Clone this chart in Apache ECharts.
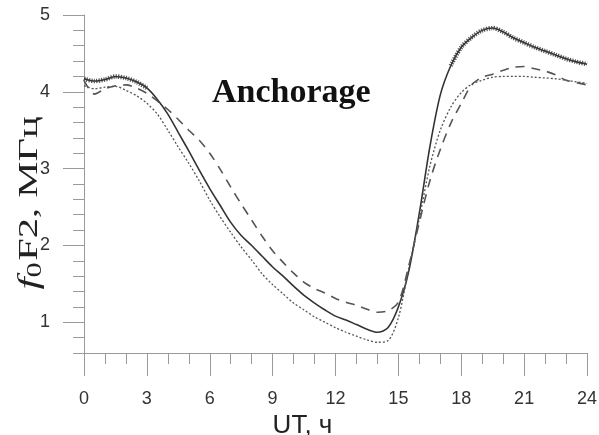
<!DOCTYPE html>
<html>
<head>
<meta charset="utf-8">
<script src="https://cdn.jsdelivr.net/npm/echarts@6/dist/echarts.min.js"></script>
<style>
  html, body { margin: 0; padding: 0; background: #fff; }
  #chart { width: 599px; height: 435px; }
</style>
</head>
<body>
<div id="chart"></div>
<script>
// UT hours, step 0.5 h
const hours = [];
for (let i = 0; i <= 48; i++) hours.push(i / 2);

// foF2, MHz
const solidVals = [
  4.17, 4.14, 4.16, 4.20, 4.18, 4.13, 4.05, 3.90, 3.71, 3.47,
  3.23, 2.98, 2.74, 2.52, 2.30, 2.13, 2.00, 1.86, 1.72, 1.60,
  1.47, 1.35, 1.25, 1.16, 1.08, 1.03, 0.97, 0.91, 0.87, 0.93,
  1.20, 1.67, 2.42, 3.28, 3.96, 4.34, 4.58, 4.71, 4.80, 4.83,
  4.78, 4.70, 4.64, 4.58, 4.53, 4.48, 4.43, 4.39, 4.36
];
const dashedVals = [
  4.15, 3.97, 4.04, 4.08, 4.09, 4.05, 3.98, 3.88, 3.77, 3.64,
  3.50, 3.37, 3.20, 2.99, 2.76, 2.54, 2.33, 2.12, 1.93, 1.78,
  1.64, 1.52, 1.44, 1.38, 1.31, 1.26, 1.22, 1.17, 1.13, 1.15,
  1.26, 1.74, 2.30, 2.84, 3.25, 3.59, 3.85, 4.09, 4.19, 4.23,
  4.28, 4.32, 4.33, 4.30, 4.27, 4.22, 4.15, 4.12, 4.09
];
const dottedVals = [
  4.08, 4.04, 4.06, 4.07, 4.02, 3.95, 3.85, 3.71, 3.50, 3.28,
  3.07, 2.84, 2.59, 2.37, 2.17, 1.98, 1.81, 1.63, 1.49, 1.37,
  1.25, 1.16, 1.07, 1.00, 0.93, 0.87, 0.82, 0.77, 0.74, 0.76,
  1.06, 1.71, 2.35, 3.03, 3.50, 3.80, 3.99, 4.10, 4.15, 4.19,
  4.20, 4.20, 4.20, 4.19, 4.18, 4.17, 4.15, 4.13, 4.11
];

const yMajor = [1, 2, 3, 4, 5];
const yMinor = [];
for (let i = 3; i <= 25; i++) yMinor.push(+(i * 0.2).toFixed(1));

const pair = vals => hours.map((h, i) => [h, vals[i]]);
// the solid curve looks "hairy" (ripple) before 3 h and after 17.5 h
const ripple = vals => hours.map((h, i) => [h, (h <= 3.2 || h >= 17.5) ? vals[i] : null]);

const chart = echarts.init(document.getElementById('chart'));
const axisGrey = '#9a9a9a';
const textCol = '#333';

chart.setOption({
  animation: false,
  backgroundColor: '#fff',
  title: {
    text: 'Anchorage',
    left: 212, top: 76, padding: 0,
    textStyle: { fontFamily: 'Liberation Serif', fontWeight: 'bold', fontSize: 34, color: '#111' }
  },
  // y axis title: the original lettering is stretched along its length
  graphic: [{
    type: 'text', x: 30, y: 203, rotation: Math.PI / 2, scaleX: 1.45,
    style: {
      text: '{i|f}{s|0}F2, МГц', align: 'center', verticalAlign: 'middle',
      font: '28px "Liberation Serif"', fill: '#222',
      rich: {
        i: { fontFamily: 'Liberation Serif', fontStyle: 'italic', fontSize: 30, color: '#222' },
        s: { fontFamily: 'Liberation Serif', fontSize: 21, color: '#222', padding: [11, 1, 0, 0] }
      }
    }
  }],
  grid: { left: 84, right: 12, top: 15, bottom: 82, outerBoundsMode: 'none' },
  xAxis: {
    type: 'value', min: 0, max: 24, interval: 3,
    name: 'UT, ч', nameLocation: 'middle', nameGap: 52,
    nameTextStyle: { fontFamily: 'Liberation Sans', fontSize: 26, color: '#222', padding: [0, 66, 0, 0] },
    axisLine: { lineStyle: { color: axisGrey } },
    axisTick: { length: 23, lineStyle: { color: axisGrey } },
    minorTick: { show: true, splitNumber: 3, length: 11, lineStyle: { color: axisGrey } },
    axisLabel: { margin: 37, fontFamily: 'Liberation Sans', fontSize: 18, color: textCol },
    splitLine: { show: false }
  },
  yAxis: [{
    type: 'value', min: 0.6, max: 5,
    axisLine: { lineStyle: { color: axisGrey } },
    axisTick: { length: 21, customValues: yMajor, lineStyle: { color: axisGrey } },
    axisLabel: { margin: 34, customValues: yMajor, fontFamily: 'Liberation Sans', fontSize: 18, color: textCol },
    splitLine: { show: false }
  }, {
    type: 'value', min: 0.6, max: 5, position: 'left',
    axisLine: { show: false },
    axisTick: { length: 11, customValues: yMinor, lineStyle: { color: axisGrey } },
    axisLabel: { show: false },
    splitLine: { show: false }
  }],
  series: [{
    type: 'line', data: pair(solidVals), showSymbol: false, smooth: 0.3,
    lineStyle: { color: '#333', width: 1.6 }
  }, {
    type: 'line', data: ripple(solidVals), showSymbol: false, smooth: 0.3,
    lineStyle: { color: '#3a3a3a', width: 4.5, type: [1.2, 1.3], opacity: 0.85 }
  }, {
    type: 'line', data: pair(dashedVals), showSymbol: false, smooth: 0.3,
    lineStyle: { color: '#555', width: 1.6, type: [9, 7] }
  }, {
    type: 'line', data: pair(dottedVals), showSymbol: false, smooth: 0.3,
    lineStyle: { color: '#555', width: 1.3, type: [2, 2] }
  }]
});
</script>
</body>
</html>
